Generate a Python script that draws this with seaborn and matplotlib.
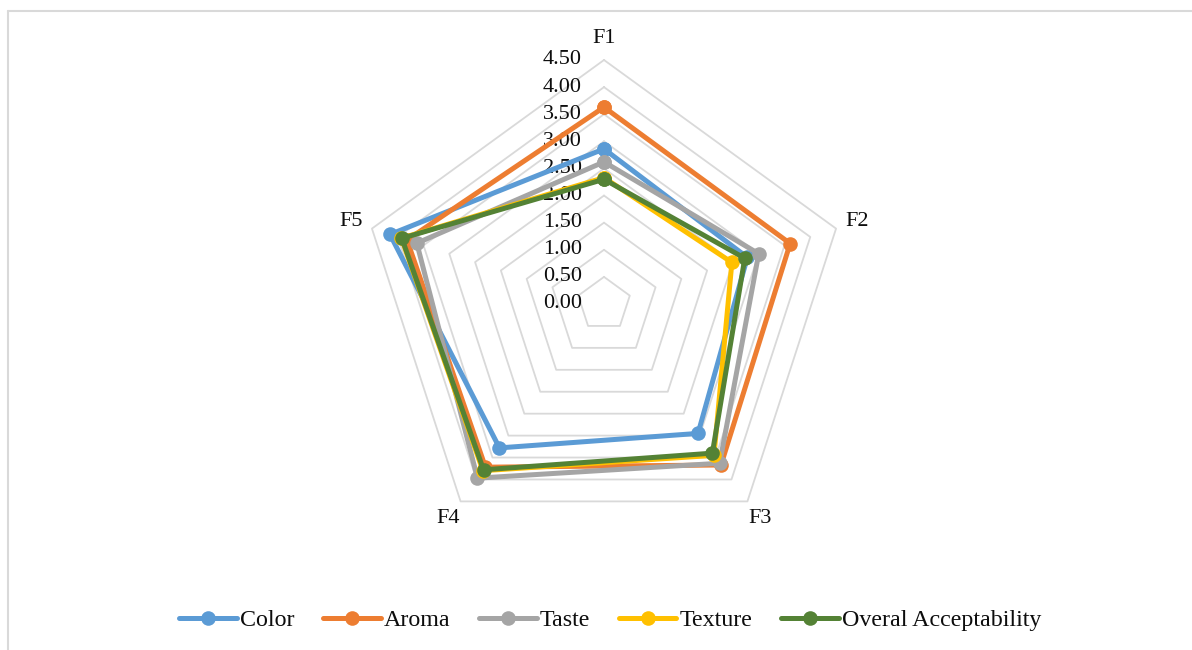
import numpy as np
import pandas as pd
import matplotlib
matplotlib.use("Agg")
import matplotlib.pyplot as plt
from matplotlib.lines import Line2D
from matplotlib.transforms import offset_copy
import seaborn as sns

# ---------------- data ----------------
categories = ["F1", "F2", "F3", "F4", "F5"]
series_names = ["Color", "Aroma", "Taste", "Texture", "Overal Acceptability"]
color_vals = [2.86, 2.78, 2.95, 3.28, 4.15]
aroma_vals = [3.63, 3.61, 3.67, 3.72, 3.82]
taste_vals = [2.62, 3.00, 3.63, 3.97, 3.63]
texture_vals = [2.33, 2.48, 3.45, 3.80, 3.93]
overall_vals = [2.30, 2.73, 3.40, 3.78, 3.92]
tick_values = [0.0, 0.5, 1.0, 1.5, 2.0, 2.5, 3.0, 3.5, 4.0, 4.5]
tick_labels = ["0.00", "0.50", "1.00", "1.50", "2.00", "2.50", "3.00", "3.50", "4.00", "4.50"]
palette = ["#5B9BD5", "#ED7D31", "#A5A5A5", "#FFC000", "#548235"]

# ---------------- style ----------------
sns.set_theme(style="white")
plt.rcParams["font.family"] = ["Liberation Serif", "DejaVu Serif"]
FS = 16
FS_LEG = 17.3
TXT = "#0d0d0d"
LW = 3.6
MS = 10.5

fig = plt.figure(figsize=(11.92, 6.5), dpi=100)
W, H = 1192, 650
cx, cy, R = 604, 304, 244
ax = fig.add_axes([(cx - R) / W, (H - cy - R) / H, 2 * R / W, 2 * R / H], projection="polar")
ax.set_theta_offset(np.pi / 2)
ax.set_theta_direction(-1)
ax.set_ylim(0, 4.5)
ax.grid(False)
ax.spines["polar"].set_visible(False)
ax.set_xticks([])
ax.set_yticks([])
ax.patch.set_alpha(0)

n = len(categories)
angles = [2 * np.pi * i / n for i in range(n)]
angles_closed = angles + [2 * np.pi]

# pentagon grid
for lv in tick_values[1:]:
    ax.plot(angles_closed, [lv] * (n + 1), color="#d9d9d9", lw=1.3, zorder=1, clip_on=False)

# value labels along F1 axis
off = offset_copy(ax.transData, fig=fig, x=-22, y=0, units="dots")
for v, lab in zip(tick_values, tick_labels):
    ax.text(0, v, lab, transform=off, ha="right", va="center", fontsize=FS, color=TXT)

# category labels
for a, c in zip(angles, categories):
    ax.text(a, 4.9, c, ha="center", va="center", fontsize=FS, color=TXT, clip_on=False)

# data frame
all_vals = [color_vals, aroma_vals, taste_vals, texture_vals, overall_vals]
rows = []
for name, vals in zip(series_names, all_vals):
    closed = list(vals) + [vals[0]]
    for th, v in zip(angles_closed, closed):
        rows.append({"series": name, "theta": th, "value": v})
df = pd.DataFrame(rows)

sns.lineplot(data=df, x="theta", y="value", hue="series", hue_order=series_names,
             palette=palette, sort=False, estimator=None, marker="o", markersize=MS,
             markeredgewidth=0, linewidth=LW, ax=ax, legend=False, zorder=3)
for ln in ax.get_lines():
    ln.set_clip_on(False)
ax.set_xlabel("")
ax.set_ylabel("")

# legend
handles = [Line2D([0], [0], color=c, lw=LW, marker="o", markersize=MS, markeredgewidth=0)
           for c in palette]
fig.legend(handles, series_names, loc="center", bbox_to_anchor=(610 / W, 1 - 620 / H),
           ncol=5, frameon=False, fontsize=FS_LEG, handlelength=2.4, handletextpad=0.12,
           columnspacing=1.2, labelcolor=TXT)

# chart border (left and top)
fig.add_artist(Line2D([8 / W, 8 / W], [0, 1 - 11 / H], color="#d9d9d9", lw=1.5))
fig.add_artist(Line2D([8 / W, 1], [1 - 11 / H, 1 - 11 / H], color="#d9d9d9", lw=1.5))

fig.savefig("out.png", dpi=100)
